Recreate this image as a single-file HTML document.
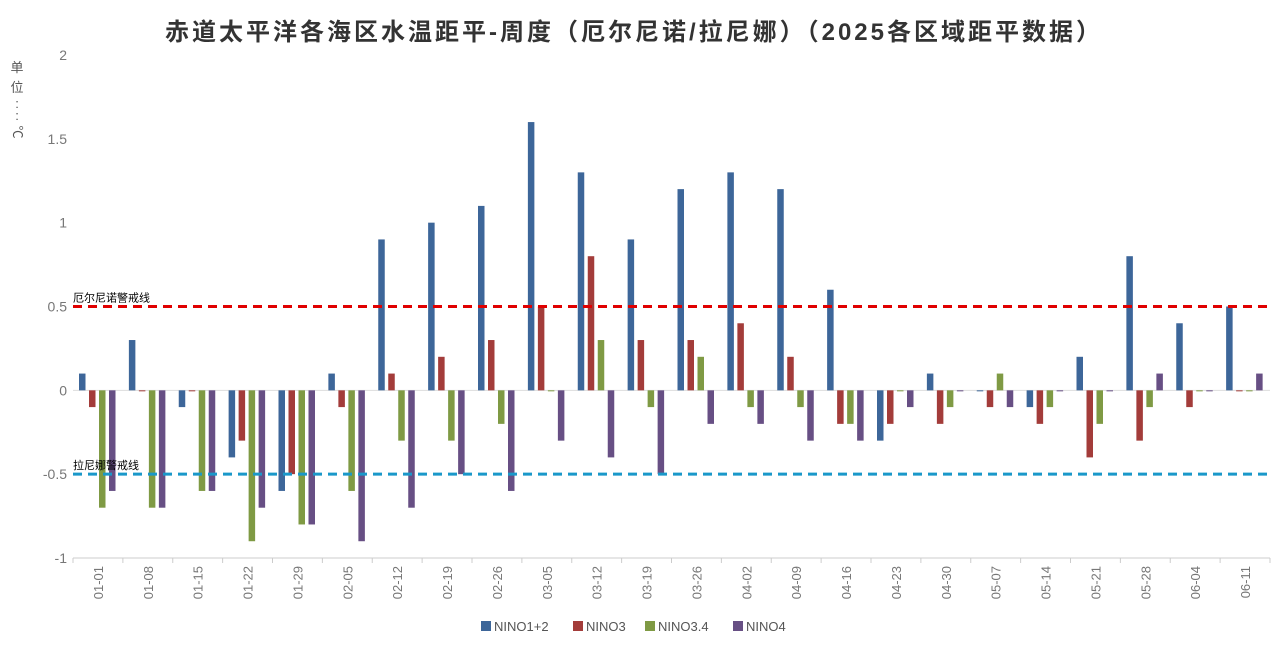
<!DOCTYPE html>
<html><head><meta charset="utf-8"><style>
body{margin:0;background:#fff;font-family:"Liberation Sans","Noto Sans CJK SC",sans-serif;}
</style></head><body>
<svg id="c" width="1276" height="651" xmlns="http://www.w3.org/2000/svg" font-family="Liberation Sans, Noto Sans CJK SC, sans-serif">
<text x="165" y="40" font-size="24" font-weight="bold" fill="#333" textLength="935" lengthAdjust="spacing">赤道太平洋各海区水温距平-周度（厄尔尼诺/拉尼娜）（2025各区域距平数据）</text>
<g font-size="13" fill="#555"><text x="17" y="72" text-anchor="middle">单</text><text x="17" y="92" text-anchor="middle">位</text><text x="17" y="108" text-anchor="middle">:</text><text x="17" y="120" text-anchor="middle">:</text><text x="17" y="136" text-anchor="middle" transform="rotate(90 17 132)">℃</text></g>
<g id="grid"></g><g id="bars"></g><g id="lines"></g><g id="legend"></g>
</svg>
<script>
const categories=["01-01","01-08","01-15","01-22","01-29","02-05","02-12","02-19","02-26","03-05","03-12","03-19","03-26","04-02","04-09","04-16","04-23","04-30","05-07","05-14","05-21","05-28","06-04","06-11"];
const nino12=[0.1,0.3,-0.1,-0.4,-0.6,0.1,0.9,1.0,1.1,1.6,1.3,0.9,1.2,1.3,1.2,0.6,-0.3,0.1,0,-0.1,0.2,0.8,0.4,0.5];
const nino3=[-0.1,0,0,-0.3,-0.5,-0.1,0.1,0.2,0.3,0.5,0.8,0.3,0.3,0.4,0.2,-0.2,-0.2,-0.2,-0.1,-0.2,-0.4,-0.3,-0.1,0];
const nino34=[-0.7,-0.7,-0.6,-0.9,-0.8,-0.6,-0.3,-0.3,-0.2,0,0.3,-0.1,0.2,-0.1,-0.1,-0.2,0,-0.1,0.1,-0.1,-0.2,-0.1,0,0];
const nino4=[-0.6,-0.7,-0.6,-0.7,-0.8,-0.9,-0.7,-0.5,-0.6,-0.3,-0.4,-0.5,-0.2,-0.2,-0.3,-0.3,-0.1,0,-0.1,0,0,0.1,0,0.1];
const yTicks=[2,1.5,1,0.5,0,-0.5,-1];
const seriesNames=["NINO1+2","NINO3","NINO3.4","NINO4"];
const colors=["#3d6699","#a33c3a","#7f9a44","#674f84"];
const elNino=0.5, laNina=-0.5;
const NS="http://www.w3.org/2000/svg";
const X0=73,X1=1270,Y0=55,Y1=558,vmin=-1,vmax=2;
const y=v=>Y0+(vmax-v)/(vmax-vmin)*(Y1-Y0);
const cw=(X1-X0)/categories.length;
const x=i=>X0+i*cw;
function mk(t,a,p){const e=document.createElementNS(NS,t);for(const k in a)e.setAttribute(k,a[k]);p.appendChild(e);return e;}
const grid=document.getElementById('grid');
yTicks.forEach(t=>{const tx=mk('text',{x:67,y:y(t)+5,'text-anchor':'end','font-size':14,fill:'#777'},grid);tx.textContent=String(t);

});
mk('line',{x1:X0,x2:X1,y1:y(0),y2:y(0),stroke:'#ddd'},grid);
mk('line',{x1:X0,x2:X1,y1:Y1,y2:Y1,stroke:'#ccc'},grid);
categories.forEach((c,i)=>{mk('line',{x1:x(i),x2:x(i),y1:Y1,y2:Y1+5,stroke:'#ccc'},grid);
const cx=x(i)+cw/2;const t=mk('text',{x:cx+5,y:Y1+8,'font-size':13,fill:'#777','text-anchor':'end',transform:`rotate(-90 ${cx+5} ${Y1+8})`},grid);t.textContent=c;

});
mk('line',{x1:X1,x2:X1,y1:Y1,y2:Y1+5,stroke:'#ccc'},grid);
const bars=document.getElementById('bars');
[nino12,nino3,nino34,nino4].forEach((s,k)=>{s.forEach((v,i)=>{const bx=x(i)+6+k*10;const y1=y(Math.max(v,0)),y2=y(Math.min(v,0));
const r=mk('rect',{x:bx,y:y1,width:6.5,height:Math.max(y2-y1,1),fill:colors[k]},bars);

});});
const lines=document.getElementById('lines');
[[elNino,'#e00000','厄尔尼诺警戒线','el-nino-line'],[laNina,'#1a98c9','拉尼娜警戒线','la-nina-line']].forEach(([v,col,lab,nm])=>{
const l=mk('line',{x1:X0,x2:X1,y1:y(v),y2:y(v),stroke:col,'stroke-width':3,'stroke-dasharray':'9,6'},lines);


const t=mk('text',{x:X0,y:y(v)-5,'font-size':11,fill:'#000'},lines);t.textContent=lab;

});
const lg=document.getElementById('legend');
const lx=[481,573,645,733];
seriesNames.forEach((n,k)=>{const g=mk('g',{},lg);


mk('rect',{x:lx[k],y:621,width:10,height:10,fill:colors[k]},g);
const t=mk('text',{x:lx[k]+13,y:631,'font-size':13,fill:'#555'},g);t.textContent=n;});
</script>
</body></html>
